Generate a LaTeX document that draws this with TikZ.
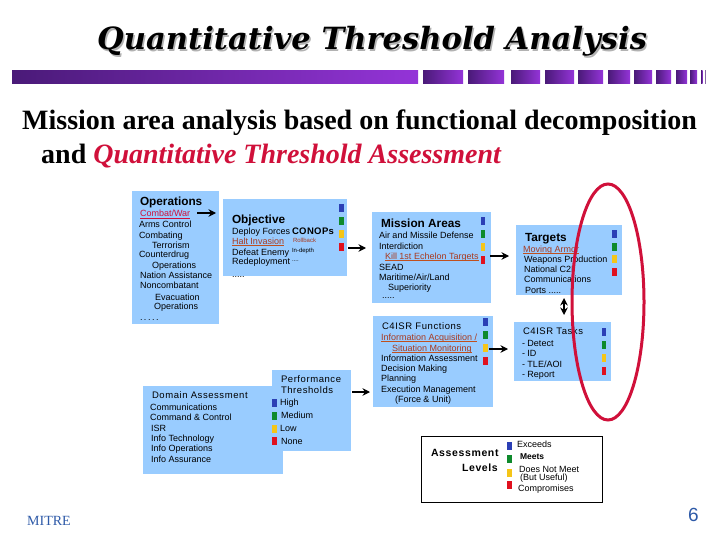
\documentclass[tikz,border=0pt]{standalone}
\usepackage{fontspec}
\setmainfont{Liberation Sans}
\newfontfamily\serifb{Liberation Serif}
\newfontfamily\titlef{DejaVu Serif}
\usetikzlibrary{arrows.meta,shadings}
\definecolor{boxblue}{HTML}{99CCFF}
\definecolor{sqblue}{HTML}{2B3FB5}
\definecolor{sqgreen}{HTML}{0E8A2C}
\definecolor{sqyellow}{HTML}{F5C518}
\definecolor{sqred}{HTML}{E0101E}
\definecolor{crim}{HTML}{D0103A}
\definecolor{brownred}{HTML}{A83A20}
\definecolor{ulbrown}{HTML}{C0501E}
\definecolor{mitre}{HTML}{2E5AA8}
\definecolor{barl}{HTML}{4A1A78}
\definecolor{barr}{HTML}{9434D8}
\tikzset{
  x=1pt,y=-1pt,
  panel/.style={fill=boxblue,draw=none},
  txt/.style={anchor=base west,inner sep=0pt,outer sep=0pt,font=\fontsize{9}{9}\selectfont,text=black},
  head/.style={txt,font=\fontsize{11.8}{11.8}\selectfont\bfseries},
  wide/.style={txt,font=\fontsize{9.5}{9.5}\selectfont\addfontfeatures{LetterSpace=6}},
  small/.style={txt,font=\fontsize{6}{6}\selectfont},
  hot/.style={txt,text=brownred},
  ul/.style={draw=ulbrown,line width=1.1pt},
  flow/.style={line width=1.6pt,-{Stealth[length=7.5pt,width=7.5pt]}},
}
\newcommand{\squares}[6]{%
  \fill[sqblue]   (#1,#3) rectangle (#2,#3+8);
  \fill[sqgreen]  (#1,#4) rectangle (#2,#4+8);
  \fill[sqyellow] (#1,#5) rectangle (#2,#5+8);
  \fill[sqred]    (#1,#6) rectangle (#2,#6+8);
}
\newcommand{\ulnode}[1]{\draw[ul] ([yshift=-1.5pt]#1.base west) -- ([yshift=-1.5pt]#1.base east);}
\begin{document}
\begin{tikzpicture}
\useasboundingbox (0,0) rectangle (720,540);
\fill[white] (0,0) rectangle (720,540);
% title
\node[anchor=base west,inner sep=0pt,text=black!30] (titleshadow) at (98.5,51.5) {\titlef\fontsize{30.6}{30.6}\selectfont\bfseries\itshape Quantitative Threshold Analysis};
\node[anchor=base west,inner sep=0pt] (title) at (97,50) {\titlef\fontsize{30.6}{30.6}\selectfont\bfseries\itshape Quantitative Threshold Analysis};
% gradient bar
\foreach \a/\b in {12/418,423/463,468/504,511/540,545/574,578/603,608/630,634/652,656/671,676/687,690/697,701/702.5,705/705.5}{
  \shade[left color=barl,right color=barr] (\a,71) rectangle (\b,84);
}
% subtitle
\node[anchor=base west,inner sep=0pt] (sub1) at (22,130) {\serifb\fontsize{28}{28}\selectfont\bfseries Mission area analysis based on functional decomposition};
\node[anchor=base west,inner sep=0pt] (sub2) at (41,164) {\serifb\fontsize{28}{28}\selectfont\bfseries and \textcolor{crim}{\itshape Quantitative Threshold Assessment}};
% panels
\fill[panel] (132,191) rectangle (219,324);
\fill[panel] (223,199) rectangle (347,276);
\fill[panel] (372,212) rectangle (491,303);
\fill[panel] (516,225) rectangle (622,295);
\fill[panel] (373,316) rectangle (493,407);
\fill[panel] (514,322) rectangle (611,381);
\fill[panel] (143,386) rectangle (283,474);
\fill[panel] (272,370) rectangle (351,451);
\node[draw=black,line width=0.8pt,fill=white,minimum width=181pt,minimum height=66pt,inner sep=0pt,anchor=north west] (legend) at (421,436) {};
% operations
\node[head] (opsh) at (140,206) {Operations};
\node[txt,text=crim] (combat) at (140,217) {Combat/War};
\foreach \px/\py/\s [count=\i] in {139/227/Arms Control,139/238/Combating,152/248/Terrorism,139/258/Counterdrug,152/268/Operations,140/278/Nation Assistance,140/288/Noncombatant,155/300/Evacuation,154/309/Operations}{
  \node[txt] (ops\i) at (\px,\py) {\s};
}
\node[txt] (opsdots) at (140,320) {.\,.\,.\,.\,.};
\draw[draw=crim,line width=0.9pt] ([yshift=-1.5pt]combat.base west) -- ([yshift=-1.5pt]combat.base east);
% objective
\node[head] (objh) at (232,223) {Objective};
\node[txt] (obj1) at (232,234) {Deploy Forces};
\node[txt,font=\fontsize{9.5}{9.5}\selectfont\bfseries\addfontfeatures{LetterSpace=4}] (conops) at (292,234) {CONOPs};
\node[hot] (halt) at (232,244) {Halt Invasion};
\ulnode{halt}
\node[small,text=brownred] (roll) at (293,242) {Rollback};
\node[txt] (obj2) at (232,255) {Defeat Enemy};
\node[small] (indepth) at (292,252) {In-depth};
\node[txt] (obj3) at (232,264) {Redeployment};
\node[small] (objdots) at (292,261) {....};
\node[txt] (obj4) at (232,277) {.....};
\squares{339}{344}{204}{217}{230}{243}
% mission
\node[head] (misk) at (381,228) {Mission Areas};
\node[txt] (mis1) at (379,239) {Air and Missile Defense};
\node[txt] (mis2) at (379,249) {Interdiction};
\node[hot] (kill) at (385,259) {Kill 1st Echelon Targets};
\ulnode{kill}
\node[txt] (mis3) at (379,270) {SEAD};
\node[txt] (mis4) at (379,280) {Maritime/Air/Land};
\node[txt] (mis5) at (388,290) {Superiority};
\node[txt] (mis6) at (382,298) {.....};
\squares{481}{485}{217}{230}{243}{256}
% targets
\node[head] (tarh) at (525,241) {Targets};
\node[hot] (moving) at (523,252) {Moving Armor};
\ulnode{moving}
\node[txt] (tar1) at (524,262) {Weapons Production};
\node[txt] (tar2) at (524,272) {National C2I};
\node[txt] (tar3) at (524,282) {Communications};
\node[txt] (tar4) at (525,293) {Ports .....};
\squares{612}{617}{230}{243}{255}{268}
% c4isr functions
\node[wide] (funh) at (382,329) {C4ISR Functions};
\node[hot] (acq) at (381,340) {Information Acquisition /};
\ulnode{acq}
\node[hot] (sit) at (392,351) {Situation Monitoring};
\ulnode{sit}
\node[txt] (fun1) at (381,361) {Information Assessment};
\node[txt] (fun2) at (381,371) {Decision Making};
\node[txt] (fun3) at (381,381) {Planning};
\node[txt] (fun4) at (381,392) {Execution Management};
\node[txt] (fun5) at (395,402) {(Force \& Unit)};
\squares{483}{488}{318}{331}{344}{357}
% c4isr tasks
\node[wide] (tskh) at (523,334) {C4ISR Tasks};
\node[txt] (tsk1) at (522,346) {- Detect};
\node[txt] (tsk2) at (522,356) {- ID};
\node[txt] (tsk3) at (522,367) {- TLE/AOI};
\node[txt] (tsk4) at (522,377) {- Report};
\squares{602}{606}{328}{341}{354}{367}
% domain
\node[wide] (domh) at (152,398) {Domain Assessment};
\node[txt] (dom1) at (150,410) {Communications};
\node[txt] (dom2) at (150,420) {Command \& Control};
\node[txt] (dom3) at (151,431) {ISR};
\node[txt] (dom4) at (151,441) {Info Technology};
\node[txt] (dom5) at (151,451) {Info Operations};
\node[txt] (dom6) at (151,462) {Info Assurance};
% performance
\node[wide] (perf1) at (281,382) {Performance};
\node[wide] (perf2) at (281,393) {Thresholds};
\node[txt] (perf3) at (280,405) {High};
\node[txt] (perf4) at (281,418) {Medium};
\node[txt] (perf5) at (280,431) {Low};
\node[txt] (perf6) at (281,444) {None};
\squares{272}{277}{399}{412}{425}{437}
% legend
\node[txt,font=\fontsize{10.5}{10.5}\selectfont\bfseries\addfontfeatures{LetterSpace=6}] (leg1) at (431,456) {Assessment};
\node[txt,font=\fontsize{10.5}{10.5}\selectfont\bfseries\addfontfeatures{LetterSpace=6}] (leg2) at (462,471) {Levels};
\squares{507}{512}{442}{455}{469}{481}
\node[txt] (leg3) at (517,447) {Exceeds};
\node[txt,font=\fontsize{8.5}{8.5}\selectfont\bfseries] (leg4) at (520,459) {Meets};
\node[txt] (leg5) at (519,472) {Does Not Meet};
\node[txt] (leg6) at (520,480.5) {(But Useful)};
\node[txt] (leg7) at (518,491) {Compromises};
% footer
\node[anchor=base west,inner sep=0pt,text=mitre] (mitrelabel) at (27,525) {\serifb\fontsize{14}{14}\selectfont MITRE};
\node[anchor=base east,inner sep=0pt,text=mitre] (pagenum) at (699,521) {\fontsize{19}{19}\selectfont 6};
% connectors
\coordinate (a1s) at (197,213); \coordinate (a1e) at (216,213);
\coordinate (a2s) at (348,248); \coordinate (a2e) at (366,248);
\coordinate (a3s) at (490,256); \coordinate (a3e) at (509,256);
\coordinate (a4s) at (489,349); \coordinate (a4e) at (508,349);
\coordinate (a5s) at (352,392); \coordinate (a5e) at (370,392);
\coordinate (a6m) at (564,306); \coordinate (a6t) at (564,298); \coordinate (a6b) at (564,315);
\draw[flow] (a1s) -- (a1e);
\draw[flow] (a2s) -- (a2e);
\draw[flow] (a3s) -- (a3e);
\draw[flow] (a4s) -- (a4e);
\draw[flow] (a5s) -- (a5e);
\draw[flow] (a6m) -- (a6t);
\draw[flow] (a6m) -- (a6b);
% red ellipse
\draw[crim,line width=3pt] (608,302) ellipse [x radius=36,y radius=118];
\end{tikzpicture}
\end{document}
